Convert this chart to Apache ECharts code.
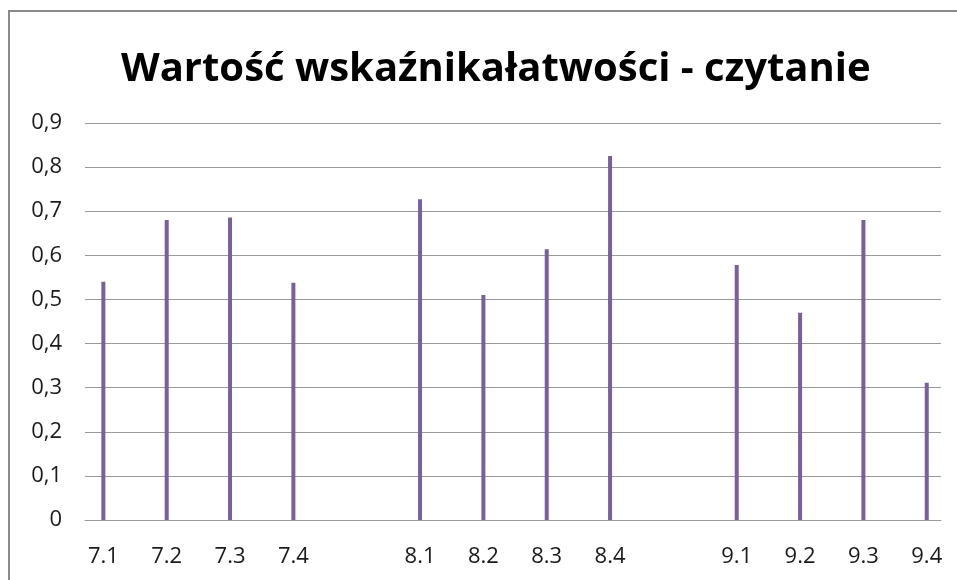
<!DOCTYPE html>
<html>
<head>
<meta charset="utf-8">
<script src="https://cdn.jsdelivr.net/npm/echarts@6/dist/echarts.min.js"></script>
<style>html,body{margin:0;padding:0;background:#fff;}#c{width:957px;height:580px;}</style>
</head>
<body>
<div id="c"></div>
<script>
const title = 'Wartość wskaźnikałatwości - czytanie';
const categories = ['7.1','7.2','7.3','7.4','','8.1','8.2','8.3','8.4','','9.1','9.2','9.3','9.4'];
const values = [0.540,0.680,0.686,0.538,null,0.727,0.510,0.614,0.825,null,0.578,0.470,0.680,0.311];
const yTicks = [0,0.1,0.2,0.3,0.4,0.5,0.6,0.7,0.8,0.9];

const labelIdx = [];
categories.forEach((c,i)=>{ if (c) labelIdx.push(i); });
const seriesData = [];
values.forEach((v,i)=>{ if (v !== null) seriesData.push([i, v]); });

const chart = echarts.init(document.getElementById('c'));
chart.setOption({
  animation: false,
  backgroundColor: '#fff',
  title: {
    text: title, left: 116, top: 45,
    textStyle: { fontFamily: 'Open Sans', fontWeight: 'bold', fontSize: 40, color: '#000' }
  },
  graphic: [{
    type: 'rect', shape: { x: 9, y: 11, width: 1000, height: 1000 },
    style: { fill: 'none', stroke: '#8a8a8a', lineWidth: 2 }, silent: true, z: 100
  }],
  grid: { left: 85, right: 16, top: 123, bottom: 60, containLabel: false },
  xAxis: {
    type: 'value', min: -0.29, max: 13.225,
    splitLine: { show: false },
    axisTick: { show: false },
    axisLine: { show: true, lineStyle: { color: '#9a9a9a', width: 1 } },
    axisLabel: {
      customValues: labelIdx,
      formatter: v => categories[Math.round(v)] || '',
      fontFamily: 'Open Sans', fontSize: 22, color: '#1a1a1a', margin: 26
    }
  },
  yAxis: {
    type: 'value', min: yTicks[0], max: yTicks[yTicks.length-1], interval: 0.1,
    axisLine: { show: false }, axisTick: { show: false },
    splitLine: { lineStyle: { color: '#9a9a9a', width: 1 } },
    axisLabel: {
      formatter: v => String(Math.round(v*10)/10).replace('.', ','),
      fontFamily: 'Open Sans', fontSize: 22, color: '#1a1a1a', margin: 23
    }
  },
  series: [{
    type: 'bar', data: seriesData, barWidth: 4,
    itemStyle: { color: '#77609b' }
  }]
});
</script>
</body>
</html>
